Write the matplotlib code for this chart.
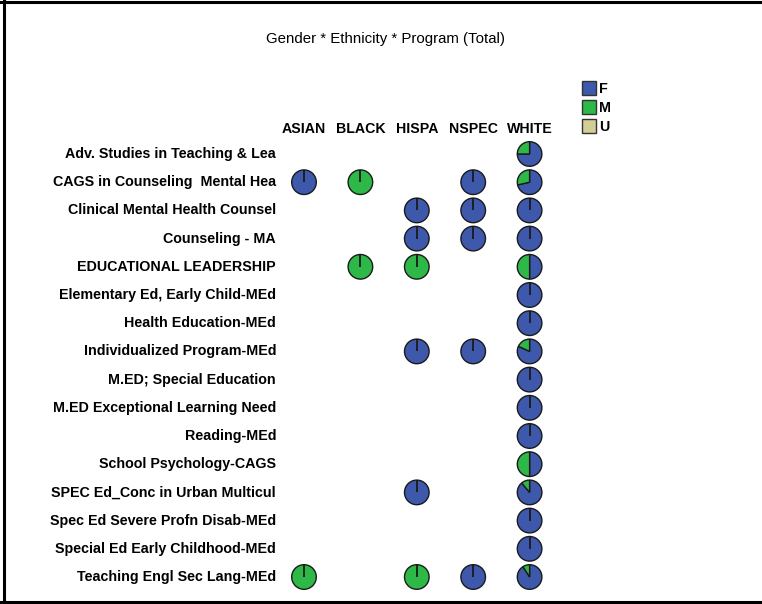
import matplotlib
matplotlib.use("Agg")
import matplotlib.pyplot as plt
from matplotlib.patches import Patch

plt.rcParams['font.family'] = ['Liberation Sans', 'DejaVu Sans']

title = "Gender * Ethnicity * Program (Total)"
ethnicities = ["ASIAN", "BLACK", "HISPA", "NSPEC", "WHITE"]
programs = [
    "Adv. Studies in Teaching & Lea",
    "CAGS in Counseling  Mental Hea",
    "Clinical Mental Health Counsel",
    "Counseling - MA",
    "EDUCATIONAL LEADERSHIP",
    "Elementary Ed, Early Child-MEd",
    "Health Education-MEd",
    "Individualized Program-MEd",
    "M.ED; Special Education",
    "M.ED Exceptional Learning Need",
    "Reading-MEd",
    "School Psychology-CAGS",
    "SPEC Ed_Conc in Urban Multicul",
    "Spec Ed Severe Profn Disab-MEd",
    "Special Ed Early Childhood-MEd",
    "Teaching Engl Sec Lang-MEd",
]
genders = ["F", "M", "U"]
gender_colors = ["#3e58ac", "#2eb848", "#d3ce97"]

# cells: (program index, ethnicity index, F, M, U) counts (estimated)
cell_prog = [0, 1, 1, 1, 1, 2, 2, 2, 3, 3, 3, 4, 4, 4, 5, 6, 7, 7, 7, 8, 9, 10, 11, 12, 12, 13, 14, 15, 15, 15, 15]
cell_eth  = [4, 0, 1, 3, 4, 2, 3, 4, 2, 3, 4, 1, 2, 4, 4, 4, 2, 3, 4, 4, 4, 4, 4, 2, 4, 4, 4, 0, 2, 3, 4]
cell_F    = [3, 1, 0, 1, 5, 1, 1, 1, 1, 1, 1, 0, 0, 1, 1, 1, 1, 1, 9, 1, 1, 1, 1, 1, 8, 1, 1, 0, 0, 1, 10]
cell_M    = [1, 0, 1, 0, 2, 0, 0, 0, 0, 0, 0, 1, 1, 1, 0, 0, 0, 0, 2, 0, 0, 0, 1, 0, 1, 0, 0, 1, 1, 0, 1]
cell_U    = [0] * len(cell_prog)

W, H = 762, 604
fig = plt.figure(figsize=(W / 100, H / 100), dpi=100)

# layout in pixels
unit = 28.2          # px per data unit
col_step = 2.0       # data units between ethnicity columns
x0_px, y0_px = 304, 154   # centre of first column / first row
ax_l, ax_r, ax_t, ax_b = 276, 570, 138, 592
ax = fig.add_axes([ax_l / W, 1 - ax_b / H, (ax_r - ax_l) / W, (ax_b - ax_t) / H])

radius = 12.3 / unit
edge = "#1a1a1a"
for p, e, f, m, u in zip(cell_prog, cell_eth, cell_F, cell_M, cell_U):
    vals = [f, m, u]
    cx, cy = e * col_step, -p
    nz = [(v, c) for v, c in zip(vals, gender_colors) if v > 0]
    ax.pie([v for v, c in nz], colors=[c for v, c in nz], center=(cx, cy),
           radius=radius, startangle=90, counterclock=False, frame=True,
           wedgeprops=dict(edgecolor=edge, linewidth=1.0))
    if len(nz) == 1:
        ax.plot([cx, cx], [cy, cy + radius], color=edge, lw=1.3,
                solid_capstyle="butt")

xmin = -(x0_px - ax_l) / unit
xmax = xmin + (ax_r - ax_l) / unit
ytop = (y0_px - ax_t) / unit
ybot = ytop - (ax_b - ax_t) / unit
ax.set_xlim(xmin, xmax)
ax.set_ylim(ybot, ytop)
ax.set_aspect('equal', adjustable='box')
ax.axis('off')

for i, name in enumerate(programs):
    ax.text(xmin, -i, name, ha='right', va='center', fontsize=10.3,
            fontweight='bold', clip_on=False)
hdr_y = (y0_px - 129) / unit
for j, name in enumerate(ethnicities):
    ax.text(j * col_step, hdr_y, name, ha='center', va='center', fontsize=10.2,
            fontweight='bold', clip_on=False)

fig.text(385 / W, 1 - 39 / H, title, ha='center', va='center', fontsize=10.8)

handles = [Patch(facecolor=c, edgecolor="#333333", linewidth=1.0) for c in gender_colors]
fig.legend(handles, genders, loc='upper left', bbox_to_anchor=(582 / W, 1 - 81 / H),
           frameon=False, handlelength=1.0, handleheight=1.15, handletextpad=0.2,
           labelspacing=0.28, borderpad=0, borderaxespad=0,
           prop=dict(size=10.3, weight='bold'))

# frame lines (top, left, bottom)
fig.add_artist(plt.Line2D([0, 1], [1 - 1.5 / H, 1 - 1.5 / H], color='black', lw=2.2))
fig.add_artist(plt.Line2D([4 / W, 4 / W], [0, 1], color='black', lw=2.2))
fig.add_artist(plt.Line2D([0, 1], [1 - 602 / H, 1 - 602 / H], color='black', lw=2.2))

fig.savefig("out.png", dpi=100)
